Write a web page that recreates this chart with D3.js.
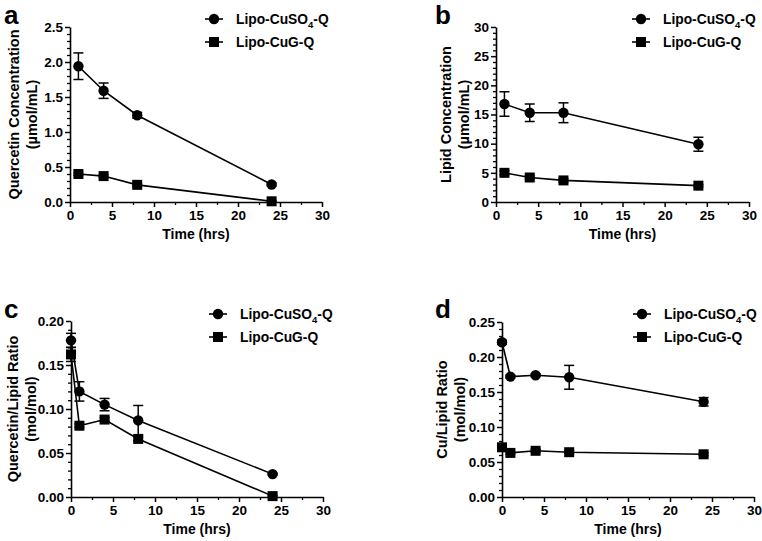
<!DOCTYPE html>
<html><head><meta charset="utf-8">
<script src="https://cdn.jsdelivr.net/npm/d3@7"></script>
<style>
body{margin:0;background:#fff;}
svg{display:block;font-family:"Liberation Sans",Arial,sans-serif;font-weight:bold;}
</style></head>
<body><svg id="chart" width="762" height="541"></svg>
<script>
// ---- data ----
const timesAB = [1, 4, 8, 24];
const timesCD = [0, 1, 4, 8, 24];
const seriesNames = ["Lipo-CuSO4-Q", "Lipo-CuG-Q"];

const aCuSO4 = [1.94, 1.59, 1.24, 0.25];
const aCuSO4Err = [0.19, 0.11, 0.04, 0.02];
const aCuG = [0.40, 0.37, 0.245, 0.01];
const aCuGErr = [0.02, 0.02, 0.02, 0.01];

const bCuSO4 = [16.8, 15.3, 15.3, 9.9];
const bCuSO4Err = [2.1, 1.5, 1.7, 1.2];
const bCuG = [5.0, 4.2, 3.7, 2.8];
const bCuGErr = [0.3, 0.3, 0.3, 0.2];

const cCuSO4 = [0.178, 0.120, 0.105, 0.087, 0.026];
const cCuSO4Err = [0.008, 0.011, 0.007, 0.017, 0.001];
const cCuG = [0.162, 0.081, 0.088, 0.066, 0.001];
const cCuGErr = [0.008, 0.002, 0.002, 0.002, 0.001];

const dCuSO4 = [0.221, 0.172, 0.174, 0.171, 0.136];
const dCuSO4Err = [0.003, 0.002, 0.002, 0.017, 0.006];
const dCuG = [0.071, 0.063, 0.066, 0.064, 0.061];
const dCuGErr = [0.003, 0.002, 0.002, 0.002, 0.002];

const xTicks = [0, 5, 10, 15, 20, 25, 30];
const aYTicks = [0.0, 0.5, 1.0, 1.5, 2.0, 2.5];
const bYTicks = [0, 5, 10, 15, 20, 25, 30];
const cYTicks = [0.00, 0.05, 0.10, 0.15, 0.20];
const dYTicks = [0.00, 0.05, 0.10, 0.15, 0.20, 0.25];

const svg = d3.select("#chart");

function panel(o) {
  const g = svg.append("g");
  const x = d3.scaleLinear().domain([0, 30]).range([o.x0, o.x1]);
  const y = d3.scaleLinear().domain([0, o.ymax]).range([o.yb, o.yt]);

  // minor ticks
  const xMinor = d3.range(0, 30.001, 2.5).filter(v => Math.abs(v % 5) > 1e-6);
  const yMinor = d3.range(0, o.ymax + 1e-9, o.yminor).filter(v => !o.yTicks.some(t => Math.abs(t - v) < 1e-9));
  g.append("g").attr("transform", `translate(0,${o.yb})`)
    .call(d3.axisBottom(x).tickValues(xMinor).tickSize(3).tickFormat(""))
    .call(s => s.select(".domain").remove())
    .selectAll("line").attr("stroke-width", 1.3);
  g.append("g").attr("transform", `translate(${o.x0},0)`)
    .call(d3.axisLeft(y).tickValues(yMinor).tickSize(3).tickFormat(""))
    .call(s => s.select(".domain").remove())
    .selectAll("line").attr("stroke-width", 1.3);

  const xa = g.append("g").attr("transform", `translate(0,${o.yb})`)
    .call(d3.axisBottom(x).tickValues(xTicks).tickSize(5).tickSizeOuter(0).tickPadding(3).tickFormat(d3.format("d")));
  const ya = g.append("g").attr("transform", `translate(${o.x0},0)`)
    .call(d3.axisLeft(y).tickValues(o.yTicks).tickSize(5).tickSizeOuter(0).tickPadding(2).tickFormat(d3.format(o.fmt)));
  [xa, ya].forEach(a => {
    a.select(".domain").attr("stroke-width", 1.6);
    a.selectAll(".tick line").attr("stroke-width", 1.5);
    a.selectAll("text").attr("font-size", 13.5).attr("font-weight", "bold")
      .attr("font-family", "Liberation Sans, Arial, sans-serif").attr("fill", "#000");
  });

  // titles
  g.append("text").attr("x", (o.x0 + o.x1) / 2).attr("y", o.yb + 37)
    .attr("text-anchor", "middle").attr("font-size", 14).text("Time (hrs)");
  const cy = (o.yt + o.yb) / 2;
  o.ytitle.forEach((t, i) => {
    g.append("text").attr("transform", `translate(${o.tx + i * 18},${cy}) rotate(-90)`)
      .attr("text-anchor", "middle").attr("font-size", 14.5).text(t);
  });
  g.append("text").attr("x", o.lx).attr("y", o.ly).attr("font-size", 26).text(o.letter);

  // series
  const line = d3.line().x(d => x(d.t)).y(d => y(d.v));
  o.series.forEach((s, si) => {
    const pts = o.times.map((t, i) => ({t, v: s.v[i], e: s.e[i]}));
    g.append("path").datum(pts).attr("d", line).attr("fill", "none")
      .attr("stroke", "#000").attr("stroke-width", 1.6);
    const eb = g.append("g");
    pts.forEach(p => {
      eb.append("line").attr("x1", x(p.t)).attr("x2", x(p.t)).attr("y1", y(p.v - p.e)).attr("y2", y(p.v + p.e))
        .attr("stroke", "#000").attr("stroke-width", 1.5);
      [p.v - p.e, p.v + p.e].forEach(v => {
        eb.append("line").attr("x1", x(p.t) - 5).attr("x2", x(p.t) + 5).attr("y1", y(v)).attr("y2", y(v))
          .attr("stroke", "#000").attr("stroke-width", 1.5);
      });
    });
    const mk = g.append("g");
    pts.forEach(p => {
      if (si === 0) mk.append("circle").attr("cx", x(p.t)).attr("cy", y(p.v)).attr("r", 5.2).attr("fill", "#000");
      else mk.append("rect").attr("x", x(p.t) - 5).attr("y", y(p.v) - 5).attr("width", 10).attr("height", 10).attr("fill", "#000");
    });
  });

  // legend
  seriesNames.forEach((n, i) => {
    const ly = o.legY + i * 23;
    const lg = g.append("g");
    lg.append("line").attr("x1", o.legX - 9).attr("x2", o.legX + 9).attr("y1", ly).attr("y2", ly)
      .attr("stroke", "#000").attr("stroke-width", 1.6);
    if (i === 0) lg.append("circle").attr("cx", o.legX).attr("cy", ly).attr("r", 5.2);
    else lg.append("rect").attr("x", o.legX - 5).attr("y", ly - 5).attr("width", 10).attr("height", 10);
    const tx = lg.append("text").attr("x", o.legX + 22).attr("y", ly + 5).attr("font-size", 13.8);
    if (n.includes("SO4")) {
      tx.append("tspan").text("Lipo-CuSO");
      tx.append("tspan").attr("font-size", 9.5).attr("dy", 4).text("4");
      tx.append("tspan").attr("dy", -4).text("-Q");
    } else tx.text(n);
  });
}

panel({letter: "a", lx: 4, ly: 24, x0: 70, x1: 322, yt: 27, yb: 202, ymax: 2.5, yTicks: aYTicks, yminor: 0.1, fmt: ".1f",
  ytitle: ["Quercetin Concentration", "(\u00b5mol/mL)"], tx: 19, legX: 214, legY: 19, times: timesAB,
  series: [{v: aCuSO4, e: aCuSO4Err}, {v: aCuG, e: aCuGErr}]});
panel({letter: "b", lx: 435, ly: 24, x0: 496, x1: 749, yt: 27, yb: 202, ymax: 30, yTicks: bYTicks, yminor: 1, fmt: "d",
  ytitle: ["Lipid Concentration", "(\u00b5mol/mL)"], tx: 451, legX: 641, legY: 19, times: timesAB,
  series: [{v: bCuSO4, e: bCuSO4Err}, {v: bCuG, e: bCuGErr}]});
panel({letter: "c", lx: 4, ly: 318, x0: 71, x1: 323, yt: 321, yb: 497, ymax: 0.2, yTicks: cYTicks, yminor: 0.01, fmt: ".2f",
  ytitle: ["Quercetin/Lipid Ratio", "(mol/mol)"], tx: 18, legX: 218, legY: 314, times: timesCD,
  series: [{v: cCuSO4, e: cCuSO4Err}, {v: cCuG, e: cCuGErr}]});
panel({letter: "d", lx: 435, ly: 318, x0: 502, x1: 754, yt: 322, yb: 497, ymax: 0.25, yTicks: dYTicks, yminor: 0.01, fmt: ".2f",
  ytitle: ["Cu/Lipid Ratio", "(mol/mol)"], tx: 447, legX: 642, legY: 314, times: timesCD,
  series: [{v: dCuSO4, e: dCuSO4Err}, {v: dCuG, e: dCuGErr}]});
</script></body></html>
